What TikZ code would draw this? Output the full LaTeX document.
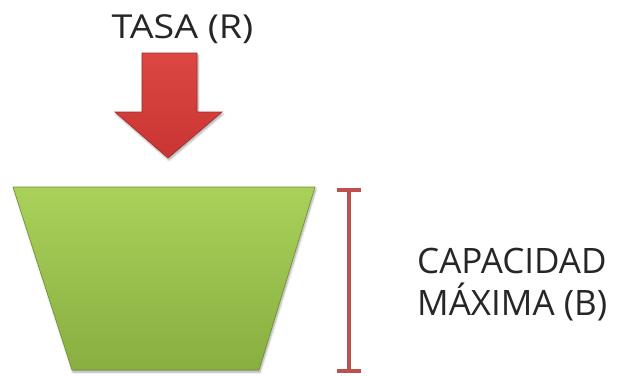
\documentclass[tikz,border=0pt]{standalone}
\usepackage{fontspec}
\setmainfont{Open Sans}
\usetikzlibrary{shadows.blur}
\definecolor{leafTop}{HTML}{AAD15A}
\definecolor{leafBot}{HTML}{88AF40}
\definecolor{arrowTop}{HTML}{DC4743}
\definecolor{arrowBot}{HTML}{C93532}
\definecolor{barRed}{HTML}{C0504D}
\tikzset{
  label text/.style={font=\fontsize{35}{46}\selectfont, text=black!85, inner sep=0pt},
  title text/.style={font=\fontsize{33}{40}\selectfont, text=black!85, inner sep=0pt, xscale=1.14},
  bucket/.style={top color=leafTop, bottom color=leafBot, draw=leafBot!80!black, line width=0.6pt,
    blur shadow={shadow xshift=1pt, shadow yshift=-2pt, shadow blur steps=6, shadow opacity=35}},
  flow arrow/.style={top color=arrowTop, bottom color=arrowBot, draw=arrowBot!80!black, line width=0.6pt,
    blur shadow={shadow xshift=1pt, shadow yshift=-2pt, shadow blur steps=6, shadow opacity=35}},
  measure bar/.style={draw=barRed, line width=4pt},
}
\begin{document}
\begin{tikzpicture}[x=1pt,y=-1pt]
  \useasboundingbox (0,0) rectangle (623,375);
  % rate label and downward arrow
  \node[title text, anchor=base] (rate) at (182.5,38) {TASA (R)};
  \path[flow arrow] (142,53) -- (197,53) -- (197,112) -- (222,112) -- (168,158)
     -- (115,112) -- (142,112) -- cycle;
  % container
  \path[bucket] (13,187) -- (315,187) -- (259,370) -- (72,370) -- cycle;
  % maximum-capacity bracket
  \coordinate (barTop) at (349,190);
  \coordinate (barBot) at (349,371);
  \draw[measure bar] (barTop) -- (barBot);
  \draw[measure bar] ([xshift=-12pt]barTop) -- ([xshift=12pt]barTop);
  \draw[measure bar] ([xshift=-12pt]barBot) -- ([xshift=12pt]barBot);
  \node[label text, anchor=base west] (cap1) at (417,273) {CAPACIDAD};
  \node[label text, anchor=base west] (cap2) at (417,315) {MÁXIMA (B)};
\end{tikzpicture}
\end{document}
